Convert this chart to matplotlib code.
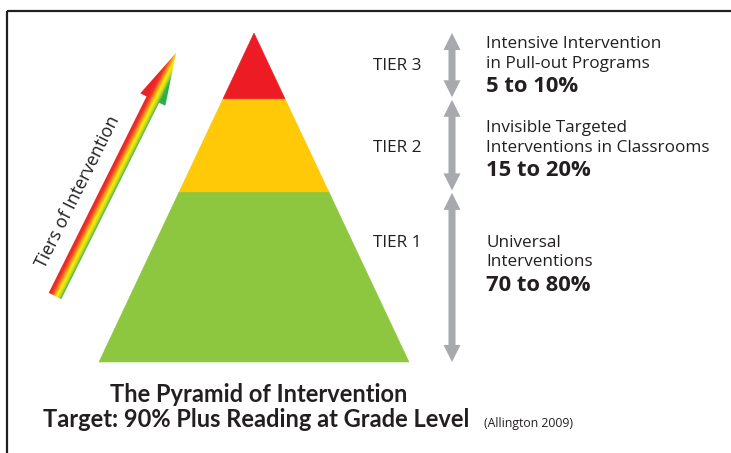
import numpy as np
import matplotlib
matplotlib.use("Agg")
import matplotlib.pyplot as plt
from matplotlib.patches import Polygon
from matplotlib.colors import LinearSegmentedColormap

# ---------------- data ----------------
tier_names = ["TIER 1", "TIER 2", "TIER 3"]
tier_top_frac = [0.517, 0.800, 1.000]          # cumulative height share of pyramid
tier_colors = ["#8dc63f", "#ffc907", "#ed1c24"]
tier_desc = [["Universal", "Interventions"],
             ["Invisible Targeted", "Interventions in Classrooms"],
             ["Intensive Intervention", "in Pull-out Programs"]]
tier_pct = ["70 to 80%", "15 to 20%", "5 to 10%"]
title_lines = ["The Pyramid of Intervention",
               "Target: 90% Plus Reading at Grade Level"]
citation = "(Allington 2009)"
arrow_label = "Tiers of Intervention"

# ---------------- layout (pixels) ----------------
W, H = 731, 453
apex_x, apex_y, base_y, base_half = 254, 33, 362, 155
tier_label_x = 373
tier_label_y = [247, 152, 70]
desc_x = 486
desc_y = [247, 132, 48]
garrow_x = 452
gray = "#a7a9ac"
ink = "#231f20"
regular = ["Open Sans", "DejaVu Sans"]
title_font = ["Lato", "DejaVu Sans"]

fig = plt.figure(figsize=(W / 100, H / 100), dpi=100)
ax = fig.add_axes([0, 0, 1, 1])
ax.set_xlim(0, W)
ax.set_ylim(H, 0)
ax.axis("off")

# border (top and left)
ax.plot([7, W], [10.5, 10.5], color=ink, lw=1.6, solid_capstyle="butt")
ax.plot([7, 7], [10.5, H], color=ink, lw=1.6, solid_capstyle="butt")

# pyramid
height = base_y - apex_y
def half_w(y):
    return base_half * (y - apex_y) / height

bottoms = [0.0] + tier_top_frac[:-1]
bounds_y = []
for b, t, c in zip(bottoms, tier_top_frac, tier_colors):
    yb = base_y - b * height
    yt = base_y - t * height
    bounds_y.append((yt, yb))
    pts = [(apex_x - half_w(yb), yb), (apex_x + half_w(yb), yb),
           (apex_x + half_w(yt), yt), (apex_x - half_w(yt), yt)]
    ax.add_patch(Polygon(pts, closed=True, facecolor=c, edgecolor=c, lw=0.4))

# gray double arrows
def double_arrow(x, y0, y1, sw=3.5, hw=8.5, hl=17):
    pts = [(x, y0), (x + hw, y0 + hl), (x + sw, y0 + hl), (x + sw, y1 - hl),
           (x + hw, y1 - hl), (x, y1), (x - hw, y1 - hl), (x - sw, y1 - hl),
           (x - sw, y0 + hl), (x - hw, y0 + hl)]
    ax.add_patch(Polygon(pts, closed=True, facecolor=gray, edgecolor="none"))

for i, (yt, yb) in enumerate(bounds_y):
    top_gap = 0 if i == len(bounds_y) - 1 else 1
    bot_gap = 0 if i == 0 else 1.5
    double_arrow(garrow_x, yt + top_gap, yb - bot_gap)

# text labels
for i in range(3):
    ax.text(tier_label_x, tier_label_y[i], tier_names[i], family=regular,
            fontsize=12.4, color=ink, va="baseline", ha="left")
    y = desc_y[i]
    ax.text(desc_x, y, tier_desc[i][0], family=regular, fontsize=12.3,
            color=ink, va="baseline", ha="left")
    ax.text(desc_x, y + 19.5, tier_desc[i][1], family=regular, fontsize=12.3,
            color=ink, va="baseline", ha="left")
    ax.text(desc_x, y + 44, tier_pct[i], family=regular, fontsize=15.8,
            fontweight="bold", color=ink, va="baseline", ha="left")

# title
ax.text(259, 402, title_lines[0], family=title_font, fontsize=17,
        fontweight="bold", color=ink, ha="center", va="baseline")
ax.text(256, 427, title_lines[1], family=title_font, fontsize=17,
        fontweight="bold", color=ink, ha="center", va="baseline")
ax.text(484, 427, citation, family=regular, fontsize=8.8,
        color=ink, ha="left", va="baseline")

# gradient arrow "Tiers of Intervention"
tail = np.array([55.0, 296.0])
tip = np.array([176.0, 53.0])
u = (tip - tail) / np.linalg.norm(tip - tail)
n = np.array([-u[1], u[0]])  # points to the right/down (green side)
sw, hw, hl = 7.0, 14.0, 52
base = tip - u * hl
poly = [tail - n * sw, base - n * sw, base - n * hw, tip,
        base + n * hw, base + n * sw, tail + n * sw]
poly = np.array(poly)
x0, y0 = poly.min(axis=0) - 2
x1, y1 = poly.max(axis=0) + 2
gx = np.linspace(x0, x1, 300)
gy = np.linspace(y0, y1, 600)
GX, GY = np.meshgrid(gx, gy)
s = (GX - tail[0]) * n[0] + (GY - tail[1]) * n[1]
s = np.clip((s + sw) / (2 * sw), 0, 1)
cmap = LinearSegmentedColormap.from_list(
    "tiers", [(0.0, "#ec2227"), (0.22, "#ee3a24"), (0.42, "#f7941d"),
              (0.6, "#fff200"), (0.8, "#c4d82e"), (1.0, "#2eb04a")])
im = ax.imshow(s, cmap=cmap, vmin=0, vmax=1, extent=(x0, x1, y1, y0),
               origin="upper", interpolation="bilinear", aspect="auto")
clip = Polygon(poly, closed=True, facecolor="none", edgecolor="none",
               transform=ax.transData)
ax.add_patch(clip)
im.set_clip_path(clip)
ax.set_xlim(0, W)
ax.set_ylim(H, 0)

ang = np.degrees(np.arctan2(-(u[1]), u[0]))
ax.text(78, 192, arrow_label, family=regular, fontsize=12.8, color=ink,
        rotation=ang, rotation_mode="anchor", ha="center", va="center")

fig.savefig("out.png", dpi=100, facecolor="white")
